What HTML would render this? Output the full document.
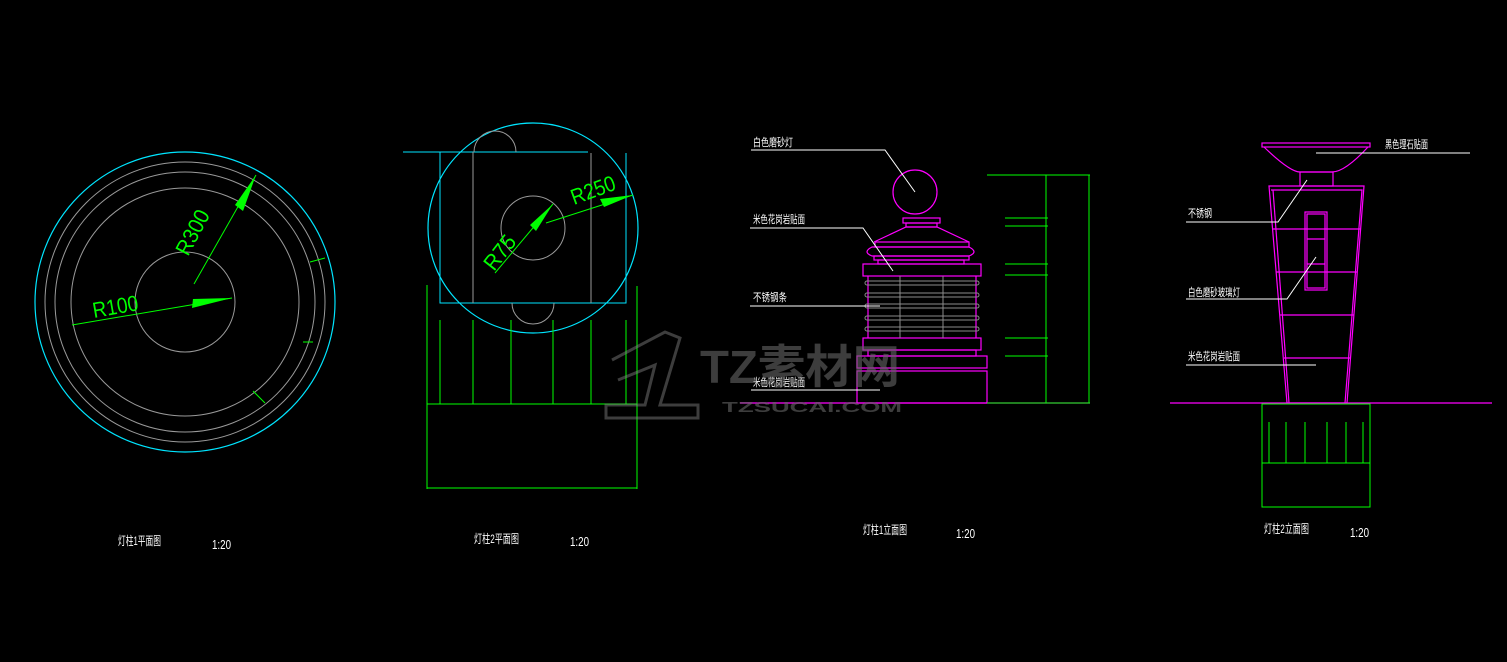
<!DOCTYPE html>
<html><head><meta charset="utf-8"><style>
html,body{margin:0;padding:0;background:#000;width:1507px;height:662px;overflow:hidden}
svg{display:block}
text{font-family:"Liberation Sans","Noto Sans CJK SC",sans-serif;fill:#fff}
</style></head><body>
<svg width="1507" height="662" viewBox="0 0 1507 662" xmlns="http://www.w3.org/2000/svg">
<rect width="1507" height="662" fill="#000"/>
<!-- Plan 1 -->
<g fill="none">
<circle cx="185" cy="302" r="150" stroke="#00e5ff" stroke-width="1.2"/>
<circle cx="185" cy="302" r="140" stroke="#9a9a9a"/>
<circle cx="185" cy="302" r="130" stroke="#9a9a9a"/>
<circle cx="185" cy="302" r="114" stroke="#9a9a9a"/>
<circle cx="185" cy="302" r="50" stroke="#9a9a9a"/>
<line x1="72" y1="325" x2="232" y2="298" stroke="#00ff00"/>
<line x1="194" y1="284" x2="256" y2="175" stroke="#00ff00"/>
</g>
<polygon points="232,298 192,308 193,299" fill="#00ff00"/>
<polygon points="256,175 243,211 235,205" fill="#00ff00"/>
<text x="0" y="0" font-size="22" fill="#00ff00" style="fill:#00ff00" transform="translate(94,318) rotate(-10)" textLength="46" lengthAdjust="spacingAndGlyphs">R100</text>
<text x="0" y="0" font-size="22" style="fill:#00ff00" transform="translate(188,257) rotate(-62)" textLength="48" lengthAdjust="spacingAndGlyphs">R300</text>
<g stroke="#00ff00"><line x1="310" y1="262" x2="325" y2="258"/><line x1="303" y1="342" x2="313" y2="342"/><line x1="253" y1="391" x2="265" y2="403"/></g>
<!-- Plan 2 -->
<g fill="none">
<circle cx="533" cy="228" r="105" stroke="#00e5ff" stroke-width="1.2"/>
<line x1="403" y1="152" x2="588" y2="152" stroke="#00e5ff"/>
<polyline points="440,152 440,303 626,303 626,153" stroke="#00e5ff"/>
<line x1="473" y1="152" x2="473" y2="303" stroke="#9a9a9a"/>
<line x1="591" y1="153" x2="591" y2="303" stroke="#9a9a9a"/>
<circle cx="533" cy="228" r="32" stroke="#9a9a9a"/>
<path d="M474,152 A21,21 0 0 1 516,152" stroke="#9a9a9a"/>
<path d="M512,303 A21,21 0 0 0 554,303" stroke="#9a9a9a"/>
<g stroke="#00ff00">
<line x1="495" y1="273" x2="553" y2="204"/>
<line x1="546" y1="223" x2="633" y2="195"/>
<line x1="427" y1="285" x2="427" y2="489"/><line x1="637" y1="286" x2="637" y2="489"/>
<line x1="440" y1="320" x2="440" y2="404"/><line x1="473" y1="320" x2="473" y2="404"/>
<line x1="511" y1="320" x2="511" y2="404"/><line x1="553" y1="320" x2="553" y2="404"/>
<line x1="591" y1="320" x2="591" y2="404"/><line x1="626" y1="320" x2="626" y2="404"/>
<line x1="427" y1="404" x2="637" y2="404"/><line x1="427" y1="488" x2="637" y2="488"/>
</g>
</g>
<polygon points="553,204 536,231 530,225" fill="#00ff00"/>
<polygon points="633,195 604,207 600,199" fill="#00ff00"/>
<text font-size="22" style="fill:#00ff00" transform="translate(494,272) rotate(-52)" textLength="38" lengthAdjust="spacingAndGlyphs">R75</text>
<text font-size="22" style="fill:#00ff00" transform="translate(574,205) rotate(-20)" textLength="46" lengthAdjust="spacingAndGlyphs">R250</text>
<!-- Elevation 1 -->
<g fill="none" stroke="#ff00ff" stroke-width="1.2">
<line x1="740" y1="403" x2="1090" y2="403"/>
<circle cx="915" cy="192" r="22"/>
<rect x="903" y="218" width="37" height="5"/>
<rect x="906" y="223" width="31" height="4"/>
<polyline points="874,242 906,227 937,227 969,242"/>
<rect x="875" y="242" width="94" height="5"/>
<path d="M872,247 H969 Q979,252 969,256 H872 Q862,252 872,247Z"/>
<rect x="874" y="256" width="95" height="4"/>
<rect x="878" y="260" width="86" height="4"/>
<rect x="863" y="264" width="118" height="12"/>
<rect x="863" y="338" width="118" height="12"/>
<rect x="868" y="350" width="108" height="6"/>
<rect x="857" y="356" width="130" height="12"/>
<rect x="857" y="371" width="130" height="32"/>
<line x1="868" y1="276" x2="868" y2="338"/><line x1="976" y1="276" x2="976" y2="338"/>
</g>
<g fill="none" stroke="#8a8a8a">
<rect x="865" y="281" width="114" height="4" rx="2"/><rect x="865" y="293" width="114" height="4" rx="2"/>
<rect x="865" y="304" width="114" height="4" rx="2"/><rect x="865" y="316" width="114" height="4" rx="2"/>
<rect x="865" y="327" width="114" height="4" rx="2"/>
<line x1="900" y1="276" x2="900" y2="338"/><line x1="943" y1="276" x2="943" y2="338"/>
</g>
<g stroke="#00ff00">
<line x1="987" y1="175" x2="1090" y2="175"/>
<line x1="1046" y1="175" x2="1046" y2="403"/><line x1="1089" y1="175" x2="1089" y2="403"/>
<line x1="1005" y1="218" x2="1048" y2="218"/><line x1="1005" y1="226" x2="1048" y2="226"/>
<line x1="1005" y1="264" x2="1048" y2="264"/><line x1="1005" y1="275" x2="1048" y2="275"/>
<line x1="1005" y1="338" x2="1048" y2="338"/><line x1="1005" y1="356" x2="1048" y2="356"/>
<line x1="987" y1="403" x2="1090" y2="403"/>
</g>
<g stroke="#fff" fill="none">
<polyline points="751,150 885,150 915,192"/>
<polyline points="750,228 863,228 893,271"/>
<polyline points="750,306 880,306"/>
<polyline points="751,390 880,390"/>
</g>
<text x="753" y="146" font-size="11" textLength="40" lengthAdjust="spacingAndGlyphs">白色磨砂灯</text>
<text x="753" y="223" font-size="11" textLength="52" lengthAdjust="spacingAndGlyphs">米色花岗岩贴面</text>
<text x="753" y="301" font-size="11" textLength="34" lengthAdjust="spacingAndGlyphs">不锈钢条</text>
<text x="753" y="386" font-size="11" textLength="52" lengthAdjust="spacingAndGlyphs">米色花岗岩贴面</text>
<!-- Elevation 2 -->
<g fill="none" stroke="#ff00ff" stroke-width="1.2">
<line x1="1170" y1="403" x2="1492" y2="403"/>
<rect x="1262" y="143" width="108" height="4"/>
<path d="M1264,147 Q1290,172 1300,172 H1332 Q1345,172 1368,147"/>
<rect x="1300" y="172" width="33" height="14"/>
<polygon points="1269,186 1364,186 1347,403 1287,403"/>
<polyline points="1271,190 1362,190 1345,403"/><polyline points="1273,190 1289,403"/>
<line x1="1272" y1="229" x2="1361" y2="229"/>
<line x1="1276" y1="272" x2="1357" y2="272"/>
<line x1="1280" y1="315" x2="1354" y2="315"/>
<line x1="1284" y1="358" x2="1350" y2="358"/>
<rect x="1305" y="212" width="22" height="78"/>
<rect x="1307" y="214" width="18" height="74"/>
<line x1="1307" y1="239" x2="1325" y2="239"/><line x1="1307" y1="264" x2="1325" y2="264"/>
</g>
<g stroke="#00ff00">
<rect x="1262" y="404" width="108" height="103" fill="none"/>
<line x1="1262" y1="463" x2="1370" y2="463"/>
<line x1="1269" y1="422" x2="1269" y2="463"/><line x1="1286" y1="422" x2="1286" y2="463"/>
<line x1="1305" y1="422" x2="1305" y2="463"/><line x1="1327" y1="422" x2="1327" y2="463"/>
<line x1="1346" y1="422" x2="1346" y2="463"/><line x1="1363" y1="422" x2="1363" y2="463"/>
</g>
<g stroke="#fff" fill="none">
<polyline points="1470,153 1316,153"/>
<polyline points="1186,222 1278,222 1307,180"/>
<polyline points="1186,299 1287,299 1316,257"/>
<polyline points="1186,365 1316,365"/>
</g>
<text x="1385" y="148" font-size="11" textLength="43" lengthAdjust="spacingAndGlyphs">黑色理石贴面</text>
<text x="1188" y="217" font-size="11" textLength="24" lengthAdjust="spacingAndGlyphs">不锈钢</text>
<text x="1188" y="296" font-size="11" textLength="52" lengthAdjust="spacingAndGlyphs">白色磨砂玻璃灯</text>
<text x="1188" y="360" font-size="11" textLength="52" lengthAdjust="spacingAndGlyphs">米色花岗岩贴面</text>
<!-- Titles -->
<text x="118" y="545" font-size="12" textLength="43" lengthAdjust="spacingAndGlyphs">灯柱1平面图</text>
<text x="212" y="549" font-size="13" textLength="19" lengthAdjust="spacingAndGlyphs">1:20</text>
<text x="474" y="543" font-size="12" textLength="45" lengthAdjust="spacingAndGlyphs">灯柱2平面图</text>
<text x="570" y="546" font-size="13" textLength="19" lengthAdjust="spacingAndGlyphs">1:20</text>
<text x="863" y="534" font-size="12" textLength="44" lengthAdjust="spacingAndGlyphs">灯柱1立面图</text>
<text x="956" y="538" font-size="13" textLength="19" lengthAdjust="spacingAndGlyphs">1:20</text>
<text x="1264" y="533" font-size="12" textLength="45" lengthAdjust="spacingAndGlyphs">灯柱2立面图</text>
<text x="1350" y="537" font-size="13" textLength="19" lengthAdjust="spacingAndGlyphs">1:20</text>
<!-- watermark -->
<g opacity="0.45" fill="none" stroke="#888" stroke-width="3">
<polyline points="612,360 665,332 680,338 660,405 698,405 698,418 606,418 606,405 645,405 655,365 618,380"/>
</g>
<text x="700" y="383" font-size="46" font-weight="bold" style="fill:#666;opacity:0.6" textLength="200" lengthAdjust="spacingAndGlyphs">TZ素材网</text>
<text x="722" y="412" font-size="15" font-weight="bold" style="fill:#666;opacity:0.6" textLength="180" lengthAdjust="spacingAndGlyphs">TZSUCAI.COM</text>
</svg>
</body></html>
